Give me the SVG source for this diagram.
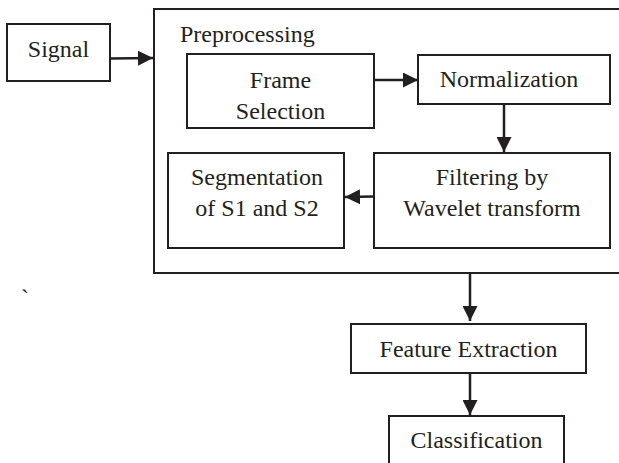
<svg xmlns="http://www.w3.org/2000/svg" width="619" height="463" viewBox="0 0 619 463">
<style>
.box{fill:#ffffff;stroke:#231f20;stroke-width:2}
.lbl{font-family:"Liberation Serif","Times New Roman",serif;font-size:24px;fill:#231f20;text-anchor:middle}
.conn{stroke:#231f20;stroke-width:2.5;fill:none;marker-end:url(#ah)}
</style>
<defs>
<marker id="ah" markerUnits="userSpaceOnUse" markerWidth="16" markerHeight="15" refX="15" refY="7.5" orient="auto">
<path d="M0,0 L15,7.5 L0,15 z" fill="#231f20"/>
</marker>
</defs>
<rect width="619" height="463" fill="#ffffff"/>
<g id="preprocessing">
<rect class="box" x="154" y="9" width="480" height="264"/>
<text class="lbl" x="180" y="42" style="text-anchor:start">Preprocessing</text>
</g>
<g id="signal">
<rect class="box" x="7" y="24" width="103" height="57"/>
<text class="lbl" x="58.5" y="57">Signal</text>
</g>
<g id="frame-selection">
<rect class="box" x="187" y="54" width="187" height="74"/>
<text class="lbl" x="280.5" y="88">Frame</text>
<text class="lbl" x="280.5" y="119">Selection</text>
</g>
<g id="normalization">
<rect class="box" x="418" y="55" width="192" height="49"/>
<text class="lbl" x="509" y="87">Normalization</text>
</g>
<g id="filtering">
<rect class="box" x="374" y="153" width="236" height="95"/>
<text class="lbl" x="492" y="185">Filtering by</text>
<text class="lbl" x="492" y="216">Wavelet transform</text>
</g>
<g id="segmentation">
<rect class="box" x="168" y="153" width="176" height="95"/>
<text class="lbl" x="257" y="185">Segmentation</text>
<text class="lbl" x="257" y="216">of S1 and S2</text>
</g>
<g id="feature-extraction">
<rect class="box" x="351" y="324" width="235" height="49"/>
<text class="lbl" x="468.5" y="357">Feature Extraction</text>
</g>
<g id="classification">
<rect class="box" x="389" y="416" width="175" height="60"/>
<text class="lbl" x="476.5" y="448">Classification</text>
</g>
<text class="lbl" x="25" y="306">`</text>
<g id="connectors">
<line class="conn" x1="110" y1="58.5" x2="153" y2="58"/>
<line class="conn" x1="374" y1="80" x2="418" y2="80"/>
<line class="conn" x1="504" y1="104" x2="504" y2="152"/>
<line class="conn" x1="374" y1="196.5" x2="345" y2="197"/>
<line class="conn" x1="470" y1="273" x2="470" y2="321"/>
<line class="conn" x1="470" y1="373" x2="470" y2="415"/>
</g>
</svg>
